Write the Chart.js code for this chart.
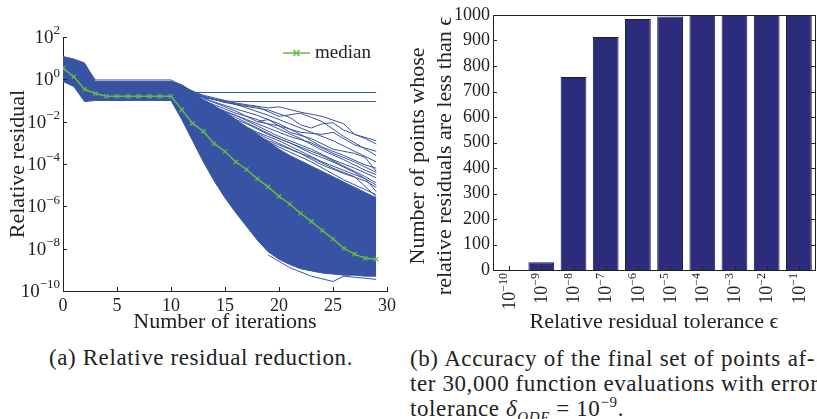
<!DOCTYPE html>
<html>
<head>
<meta charset="utf-8">
<script src="https://cdn.jsdelivr.net/npm/chart.js@4.4.0/dist/chart.umd.min.js"></script>
<style>
html, body { margin:0; padding:0; background:#fff; overflow:hidden; width:817px; height:419px; }
#left { position:absolute; left:0; top:0; }
#right { position:absolute; left:400px; top:0; }
.cap { position:absolute; font-family:"Liberation Serif", serif; font-size:23px; color:#222; letter-spacing:0.6px; line-height:25px; }
#capA { left:49px; top:345px; white-space:nowrap; }
#capB { left:410px; top:346px; width:405px; }
#capB div { text-align:justify; text-align-last:justify; white-space:nowrap; }
#capB div.last { text-align-last:left; }
sub, sup { font-size:15px; line-height:0; }
</style>
</head>
<body>
<canvas id="left" width="400" height="340"></canvas>
<canvas id="right" width="440" height="340"></canvas>
<div class="cap" id="capA">(a) Relative residual reduction.</div>
<div class="cap" id="capB">
  <div>(b) Accuracy of the final set of points af-</div>
  <div>ter 30,000 function evaluations with error</div>
  <div class="last">tolerance <i>δ<sub>ODE</sub></i> = 10<sup>−9</sup>.</div>
</div>
<script>
// ---- data, left panel (residuals as exponents of 10) ----
const iterations = [0,1,2,3,4,5,6,7,8,9,10,11,12,13,14,15,16,17,18,19,20,21,22,23,24,25,26,27,28,29];
const medianExp = [0.53,0.12,-0.47,-0.67,-0.8,-0.8,-0.8,-0.8,-0.8,-0.8,-0.8,-1.43,-2.08,-2.46,-3.04,-3.41,-3.90,-4.26,-4.70,-5.08,-5.53,-5.89,-6.33,-6.71,-7.14,-7.54,-7.98,-8.26,-8.45,-8.50];
const bandUpperExp = [1.08,0.96,0.77,-0.10,-0.10,-0.10,-0.10,-0.10,-0.10,-0.10,-0.10,-0.25,-0.60,-0.95,-1.25,-1.55,-1.90,-2.25,-2.60,-2.95,-3.30,-3.60,-3.85,-4.10,-4.35,-4.60,-4.85,-5.10,-5.35,-5.60];
const bandLowerExp = [-0.10,-0.34,-1.05,-1.00,-1.00,-1.00,-1.00,-1.00,-1.00,-1.00,-1.00,-1.90,-2.90,-3.90,-4.80,-5.60,-6.30,-6.95,-7.60,-8.15,-8.50,-8.75,-8.95,-9.05,-9.15,-9.20,-9.25,-9.25,-9.30,-9.30];
// single runs that stay outside the dense band: [iteration, exponent]
const strayRuns = [
  [[2,0.7],[3,-0.03],[10,-0.03],[11,-0.3]],
  [[10,-0.1],[11,-0.55],[12,-0.62],[29,-0.62]],
  [[10,-0.1],[11,-0.5],[12,-0.7],[13,-0.85],[14,-0.95],[15,-1.02],[16,-1.05],[29,-1.05]],
  [[11,-0.3],[13,-0.8],[16,-1.2],[19,-1.45],[21,-1.8],[22,-2.15],[23,-2.3],[24,-2.1],[25,-2.05],[26,-2.4],[27,-2.6],[28,-2.8],[29,-3.05]],
  [[12,-0.7],[15,-1.1],[18,-1.3],[20,-1.75],[22,-1.6],[24,-2.0],[26,-2.7],[28,-3.3],[29,-3.6]],
  [[12,-0.65],[14,-0.95],[17,-1.2],[19,-1.35],[20,-1.3],[22,-1.55],[24,-1.75],[26,-2.1],[27,-2.6],[29,-2.9]],
  [[11,-0.4],[13,-0.75],[15,-1.0],[17,-1.35],[19,-1.7],[21,-2.1],[23,-2.5],[25,-2.9],[27,-3.4],[29,-3.9]],
  [[11,-0.35],[13.6,-1.0],[16,-1.4],[18,-1.7],[20,-2.1],[22,-2.6],[24,-3.2],[26,-3.6],[28,-4.05],[29,-4.2]],
  [[13,-0.9],[16,-1.5],[18,-2.0],[19,-1.9],[21,-2.5],[23,-2.8],[25,-3.3],[27,-3.5],[28,-3.7],[29,-4.35]],
  [[12,-0.8],[14,-1.2],[16,-1.6],[18,-1.9],[20,-2.35],[22,-2.8],[24,-3.35],[26,-3.8],[28,-4.3],[29,-4.5]],
  [[11,-0.4],[12,-0.9],[14,-1.4],[16,-1.7],[18,-2.2],[20,-2.7],[23,-3.3],[25,-3.8],[27,-4.2],[29,-4.65]],
  [[11,-0.6],[13,-1.2],[15,-1.75],[17,-2.3],[19,-2.8],[22,-3.5],[24,-4.05],[26,-4.45],[28,-4.8],[29,-5.1]],
  [[12,-1.0],[14,-1.6],[16,-2.1],[18,-2.7],[20,-3.2],[23,-3.9],[26,-4.75],[29,-5.45]],
  [[13,-1.1],[15,-1.5],[17,-1.9],[19,-2.3],[21,-2.7],[23,-3.0],[25,-3.5],[27,-3.9],[29,-4.4]],
  [[14,-1.4],[16,-1.8],[18,-2.3],[20,-2.8],[22,-3.2],[24,-3.6],[26,-4.1],[28,-4.6],[29,-4.9]],
  [[15,-1.7],[17,-2.1],[19,-2.6],[21,-3.0],[23,-3.5],[25,-3.9],[27,-4.4],[29,-5.0]],
  [[16,-2.0],[18,-2.5],[20,-2.9],[22,-3.4],[24,-3.9],[26,-4.3],[28,-4.7],[29,-5.3]],
  [[17,-2.4],[19,-2.9],[21,-3.3],[23,-3.7],[25,-4.2],[27,-4.6],[29,-5.55]],
  [[18,-2.0],[20,-2.2],[22,-2.5],[24,-2.6],[25,-2.5],[27,-3.1],[29,-3.4]],
  [[19,-8.3],[21,-8.9],[23,-9.3],[25,-9.55],[26,-9.3],[28,-9.4],[29,-9.45]]
];
const residualTickExp = [2,0,-2,-4,-6,-8,-10];

// ---- data, right panel ----
const toleranceExp = [-10,-9,-8,-7,-6,-5,-4,-3,-2,-1];
const pointCounts = [0,30,757,914,984,994,1000,1000,1000,1000];
const countTitle = ['Number of points whose', 'relative residuals are less than ϵ'];

const BLUE = '#3953a4';
const GREEN = '#62bb47';
const INK = '#222';
const SERIF = '"Liberation Serif", "DejaVu Serif", serif';

function toPoints(exps) {
  return iterations.map((it, k) => ({x: it, y: Math.pow(10, exps[k])}));
}

// "10" with a raised exponent; right end of the label sits at local x = 0
function drawPow10(ctx, exp, baseSize, expSize, raise) {
  const expText = String(exp).replace('-', '\u2212');
  ctx.font = expSize + 'px ' + SERIF;
  const ew = ctx.measureText(expText).width;
  ctx.font = baseSize + 'px ' + SERIF;
  const bw = ctx.measureText('10').width;
  ctx.textAlign = 'left';
  ctx.textBaseline = 'middle';
  ctx.fillText('10', -ew - bw, 0);
  ctx.font = expSize + 'px ' + SERIF;
  ctx.fillText(expText, -ew, -raise);
}

// small inward ticks + optional full box
const inwardTicks = {
  id: 'inwardTicks',
  afterDraw(chart, args, opts) {
    const ctx = chart.ctx, a = chart.chartArea;
    const xs = chart.scales.x, ys = chart.scales.y;
    ctx.save();
    ctx.strokeStyle = INK;
    ctx.lineWidth = 1;
    ctx.beginPath();
    xs.ticks.forEach((t, i) => {
      const px = Math.round(xs.getPixelForTick(i)) + 0.5;
      ctx.moveTo(px, a.bottom); ctx.lineTo(px, a.bottom - 4);
    });
    ys.ticks.forEach((t, i) => {
      const py = Math.round(ys.getPixelForTick(i)) + 0.5;
      ctx.moveTo(a.left, py); ctx.lineTo(a.left + 4, py);
      if (opts.box) { ctx.moveTo(a.right, py); ctx.lineTo(a.right - 4, py); }
    });
    ctx.stroke();
    if (opts.box) {
      ctx.strokeRect(Math.round(a.left) + 0.5, Math.round(a.top) + 0.5,
        Math.round(a.right - a.left), Math.round(a.bottom - a.top));
    }
    ctx.restore();
  }
};

// left panel: legend entry and power-of-ten tick labels
const residualExtras = {
  id: 'residualExtras',
  afterDraw(chart) {
    const ctx = chart.ctx, a = chart.chartArea, ys = chart.scales.y;
    ctx.save();
    ctx.fillStyle = INK;
    residualTickExp.forEach(e => {
      ctx.save();
      ctx.translate(a.left - 3, ys.getPixelForValue(Math.pow(10, e)) + 1);
      drawPow10(ctx, e, 19, 13, 7);
      ctx.restore();
    });
    const x0 = a.right - 104, y0 = a.top + 16;
    ctx.strokeStyle = GREEN;
    ctx.lineWidth = 1.5;
    ctx.beginPath();
    ctx.moveTo(x0, y0); ctx.lineTo(x0 + 27, y0);
    const cx = x0 + 13.5, r = 3;
    ctx.moveTo(cx - r, y0 - r); ctx.lineTo(cx + r, y0 + r);
    ctx.moveTo(cx - r, y0 + r); ctx.lineTo(cx + r, y0 - r);
    ctx.stroke();
    ctx.font = '19px ' + SERIF;
    ctx.textAlign = 'left';
    ctx.textBaseline = 'middle';
    ctx.fillText('median', x0 + 32, y0);
    ctx.restore();
  }
};

// right panel: rotated tolerance labels and the two-line y title
const countExtras = {
  id: 'countExtras',
  afterDraw(chart) {
    const ctx = chart.ctx, a = chart.chartArea, xs = chart.scales.x;
    ctx.save();
    ctx.fillStyle = INK;
    toleranceExp.forEach((e, i) => {
      ctx.save();
      ctx.translate(xs.getPixelForTick(i) + 1, a.bottom + 3);
      ctx.rotate(-Math.PI / 2);
      drawPow10(ctx, e, 18, 12, 6);
      ctx.restore();
    });
    ctx.font = '22px ' + SERIF;
    ctx.textAlign = 'center';
    ctx.textBaseline = 'middle';
    countTitle.forEach((line, k) => {
      ctx.save();
      ctx.translate(18 + k * 27, 156);
      ctx.rotate(-Math.PI / 2);
      ctx.fillText(line, 0, 0);
      ctx.restore();
    });
    ctx.restore();
  }
};

Chart.defaults.font.family = SERIF;
Chart.defaults.color = INK;

// ---- left: relative residual per iteration ----
let leftDatasets = [
  {data: toPoints(bandUpperExp), borderColor: BLUE, backgroundColor: BLUE, borderWidth: 1, pointRadius: 0, fill: '+1', order: 3},
  {data: toPoints(bandLowerExp), borderColor: BLUE, borderWidth: 1, pointRadius: 0, fill: false, order: 3}
];
strayRuns.forEach(run => {
  leftDatasets.push({
    data: run.map(p => ({x: p[0], y: Math.pow(10, p[1])})),
    borderColor: BLUE, borderWidth: 1, pointRadius: 0, fill: false, order: 2
  });
});
leftDatasets.push({
  label: 'median', data: toPoints(medianExp), borderColor: GREEN, borderWidth: 1.5,
  pointStyle: 'crossRot', pointRadius: 3, pointBorderColor: GREEN, pointBorderWidth: 1.2,
  fill: false, order: 0
});

new Chart(document.getElementById('left'), {
  type: 'line',
  data: {datasets: leftDatasets},
  options: {
    responsive: false,
    animation: false,
    layout: {padding: {top: 37, right: 13, left: 0, bottom: 0}},
    elements: {line: {tension: 0}},
    plugins: {legend: {display: false}, tooltip: {enabled: false}, inwardTicks: {box: false}},
    scales: {
      x: {
        type: 'linear', min: 0, max: 30,
        grid: {display: false, drawTicks: false},
        border: {display: true, color: INK, width: 1},
        ticks: {stepSize: 5, font: {size: 18}, padding: 4, color: INK},
        title: {display: true, text: 'Number of iterations', font: {size: 22}, padding: {top: 0, bottom: 5}, color: INK},
        afterFit(s) { s.height = 49; s.paddingLeft = 0; s.paddingRight = 0; }
      },
      y: {
        type: 'logarithmic', min: 1e-10, max: 1e2,
        grid: {display: false, drawTicks: false},
        border: {display: true, color: INK, width: 1},
        afterBuildTicks(s) { s.ticks = residualTickExp.map(e => ({value: Math.pow(10, e)})); },
        ticks: {display: false},
        title: {display: true, text: 'Relative residual', font: {size: 22}, padding: {top: 5, bottom: 0}, color: INK},
        afterFit(s) { s.width = 63; s.paddingTop = 0; s.paddingBottom = 0; }
      }
    }
  },
  plugins: [inwardTicks, residualExtras]
});

// ---- right: points below each tolerance ----
new Chart(document.getElementById('right'), {
  type: 'bar',
  data: {
    labels: toleranceExp.map(e => '1e' + e),
    datasets: [{
      data: pointCounts,
      backgroundColor: '#2b2d7c',
      borderColor: '#1b1b3a',
      borderWidth: 1,
      categoryPercentage: 1,
      barPercentage: 0.8
    }]
  },
  options: {
    responsive: false,
    animation: false,
    layout: {padding: {top: 15, right: 25, left: 0, bottom: 0}},
    plugins: {legend: {display: false}, tooltip: {enabled: false}, inwardTicks: {box: true}},
    scales: {
      x: {
        grid: {display: false, drawTicks: false},
        border: {display: true, color: INK, width: 1},
        ticks: {display: false},
        title: {display: true, text: 'Relative residual tolerance ϵ', font: {size: 22}, padding: {top: 0, bottom: 5}, color: INK},
        afterFit(s) { s.height = 70; s.paddingLeft = 0; s.paddingRight = 0; }
      },
      y: {
        min: 0, max: 1000,
        grid: {display: false, drawTicks: false},
        border: {display: true, color: INK, width: 1},
        ticks: {stepSize: 100, font: {size: 18}, padding: 3, color: INK, callback: v => String(v)},
        afterFit(s) { s.width = 93; s.paddingTop = 0; s.paddingBottom = 0; }
      }
    }
  },
  plugins: [inwardTicks, countExtras]
});
</script>
</body>
</html>
